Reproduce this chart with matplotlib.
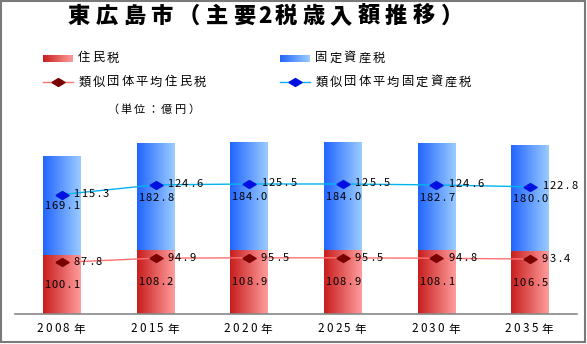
import numpy as np
import matplotlib
matplotlib.use("Agg")
import matplotlib.pyplot as plt
from matplotlib.colors import LinearSegmentedColormap
from matplotlib.patches import Rectangle

plt.rcParams['font.family'] = ['Noto Sans CJK JP', 'DejaVu Sans']

# 歳入額（億円）
years = ['2008年', '2015年', '2020年', '2025年', '2030年', '2035年']
resident = [100.1, 108.2, 108.9, 108.9, 108.1, 106.5]
fixed_asset = [169.1, 182.8, 184.0, 184.0, 182.7, 180.0]
avg_resident = [87.8, 94.9, 95.5, 95.5, 94.8, 93.4]
avg_fixed_asset = [115.3, 124.6, 125.5, 125.5, 124.6, 122.8]

W, H = 587, 344
fig = plt.figure(figsize=(W / 100, H / 100), dpi=100)
fig.patch.set_facecolor('white')

ax = fig.add_axes([15 / W, (H - 314) / H, 562 / W, (314 - 137.5) / H])
# pixel-space layer for titles, legend and labels
ov = fig.add_axes([0, 0, 1, 1], zorder=5)
ov.set_xlim(0, W)
ov.set_ylim(H, 0)
ov.axis('off')
ov.patch.set_facecolor('none')

red_cm = LinearSegmentedColormap.from_list('r', ['#C81E1E', '#FF9C9C'])
blue_cm = LinearSegmentedColormap.from_list('b', ['#2266FF', '#9ACBFF'])
grad = np.linspace(0, 1, 64).reshape(1, -1)


def spaced(x, y, s, size, pitch, ha='left', **kw):
    # fixed-pitch text: ascii takes half a cell
    cells = [pitch / 2 if ord(c) < 128 else pitch for c in s]
    total = sum(cells)
    if ha == 'center':
        x -= total / 2
    for c, w in zip(s, cells):
        ov.text(x + w / 2, y, c, fontsize=size, ha='center', va='center', **kw)
        x += w


def to_px(xv, yv):
    dx, dy = ax.transData.transform((xv, yv))
    return dx, H - dy


x = np.arange(len(years))
bw = 0.405
res = np.array(resident)
fix = np.array(fixed_asset)

bars_r = ax.bar(x, res, bw, color='none', linewidth=0)
bars_b = ax.bar(x, fix, bw, bottom=res, color='none', linewidth=0)
for bars, cm in ((bars_r, red_cm), (bars_b, blue_cm)):
    for p in bars:
        x0, y0 = p.get_x(), p.get_y()
        im = ax.imshow(grad, cmap=cm, aspect='auto', zorder=1,
                       extent=[x0, x0 + p.get_width(), y0, y0 + p.get_height()])
        im.set_clip_path(p)

diamond = [(-1, 0), (0, 0.6), (1, 0), (0, -0.6), (-1, 0)]
line_r = np.array(avg_resident)
line_b = line_r + np.array(avg_fixed_asset)
ax.plot(x, line_r, color='#FF7070', lw=1, zorder=3,
        marker=diamond, ms=9.5, mfc='#7A0000', mec='#7A0000')
ax.plot(x, line_b, color='#00B4F0', lw=1, zorder=3,
        marker=diamond, ms=9.5, mfc='#0010E0', mec='#0010E0')

ax.set_xlim(-0.5, len(years) - 0.5)
ax.set_ylim(0, 300)
ax.set_xticks([])
ax.set_yticks([])
for s in ('top', 'left', 'right'):
    ax.spines[s].set_visible(False)
ax.spines['bottom'].set_color('#888888')
ax.spines['bottom'].set_linewidth(1.2)
ax.patch.set_facecolor('none')

fig.canvas.draw()

num_size = 8.0
for i in range(len(years)):
    cx, cy = to_px(x[i], res[i] / 2)
    spaced(cx, cy, f'{resident[i]:.1f}', num_size, 14.6, ha='center')
    cx, cy = to_px(x[i], res[i] + fix[i] / 2)
    spaced(cx, cy + 1, f'{fixed_asset[i]:.1f}', num_size, 14.6, ha='center')
    mx, my = to_px(x[i], line_r[i])
    spaced(mx + 11, my, f'{avg_resident[i]:.1f}', num_size, 14.8)
    mx, my = to_px(x[i], line_b[i])
    spaced(mx + 11, my - 1, f'{avg_fixed_asset[i]:.1f}', num_size, 14.8)
    tx, _ = to_px(x[i], 0)
    spaced(tx, 329, years[i], 8.4, 17.5, ha='center')

spaced(65, 16.5, '東広島市（主要2税歳入額推移）', 16, 27.6, weight='heavy')

# legend
ov.imshow(grad, cmap=red_cm, aspect='auto', extent=[43, 73, 62, 55])
ov.imshow(grad, cmap=blue_cm, aspect='auto', extent=[280, 310, 62, 55])
spaced(77, 58, '住民税', 8.8, 14.4)
spaced(314, 58, '固定資産税', 8.8, 14.4)
ov.plot([43, 73], [82, 82], color='#FF7070', lw=1)
ov.plot([58], [82], ls='none', marker=diamond, ms=9.5, mfc='#7A0000', mec='#7A0000')
ov.plot([280, 310], [82, 82], color='#00B4F0', lw=1)
ov.plot([295], [82], ls='none', marker=diamond, ms=9.5, mfc='#0010E0', mec='#0010E0')
spaced(77, 82, '類似団体平均住民税', 8.8, 14.4)
spaced(314, 82, '類似団体平均固定資産税', 8.8, 14.4)
spaced(106, 110, '（単位：億円）', 8, 13.5)

ov.set_xlim(0, W)
ov.set_ylim(H, 0)
ov.add_patch(Rectangle((0.8, 0.8), 584.5, 341.5, fill=False,
                       edgecolor='#7A7A7A', lw=1.5))

fig.savefig('out.png', dpi=100)
